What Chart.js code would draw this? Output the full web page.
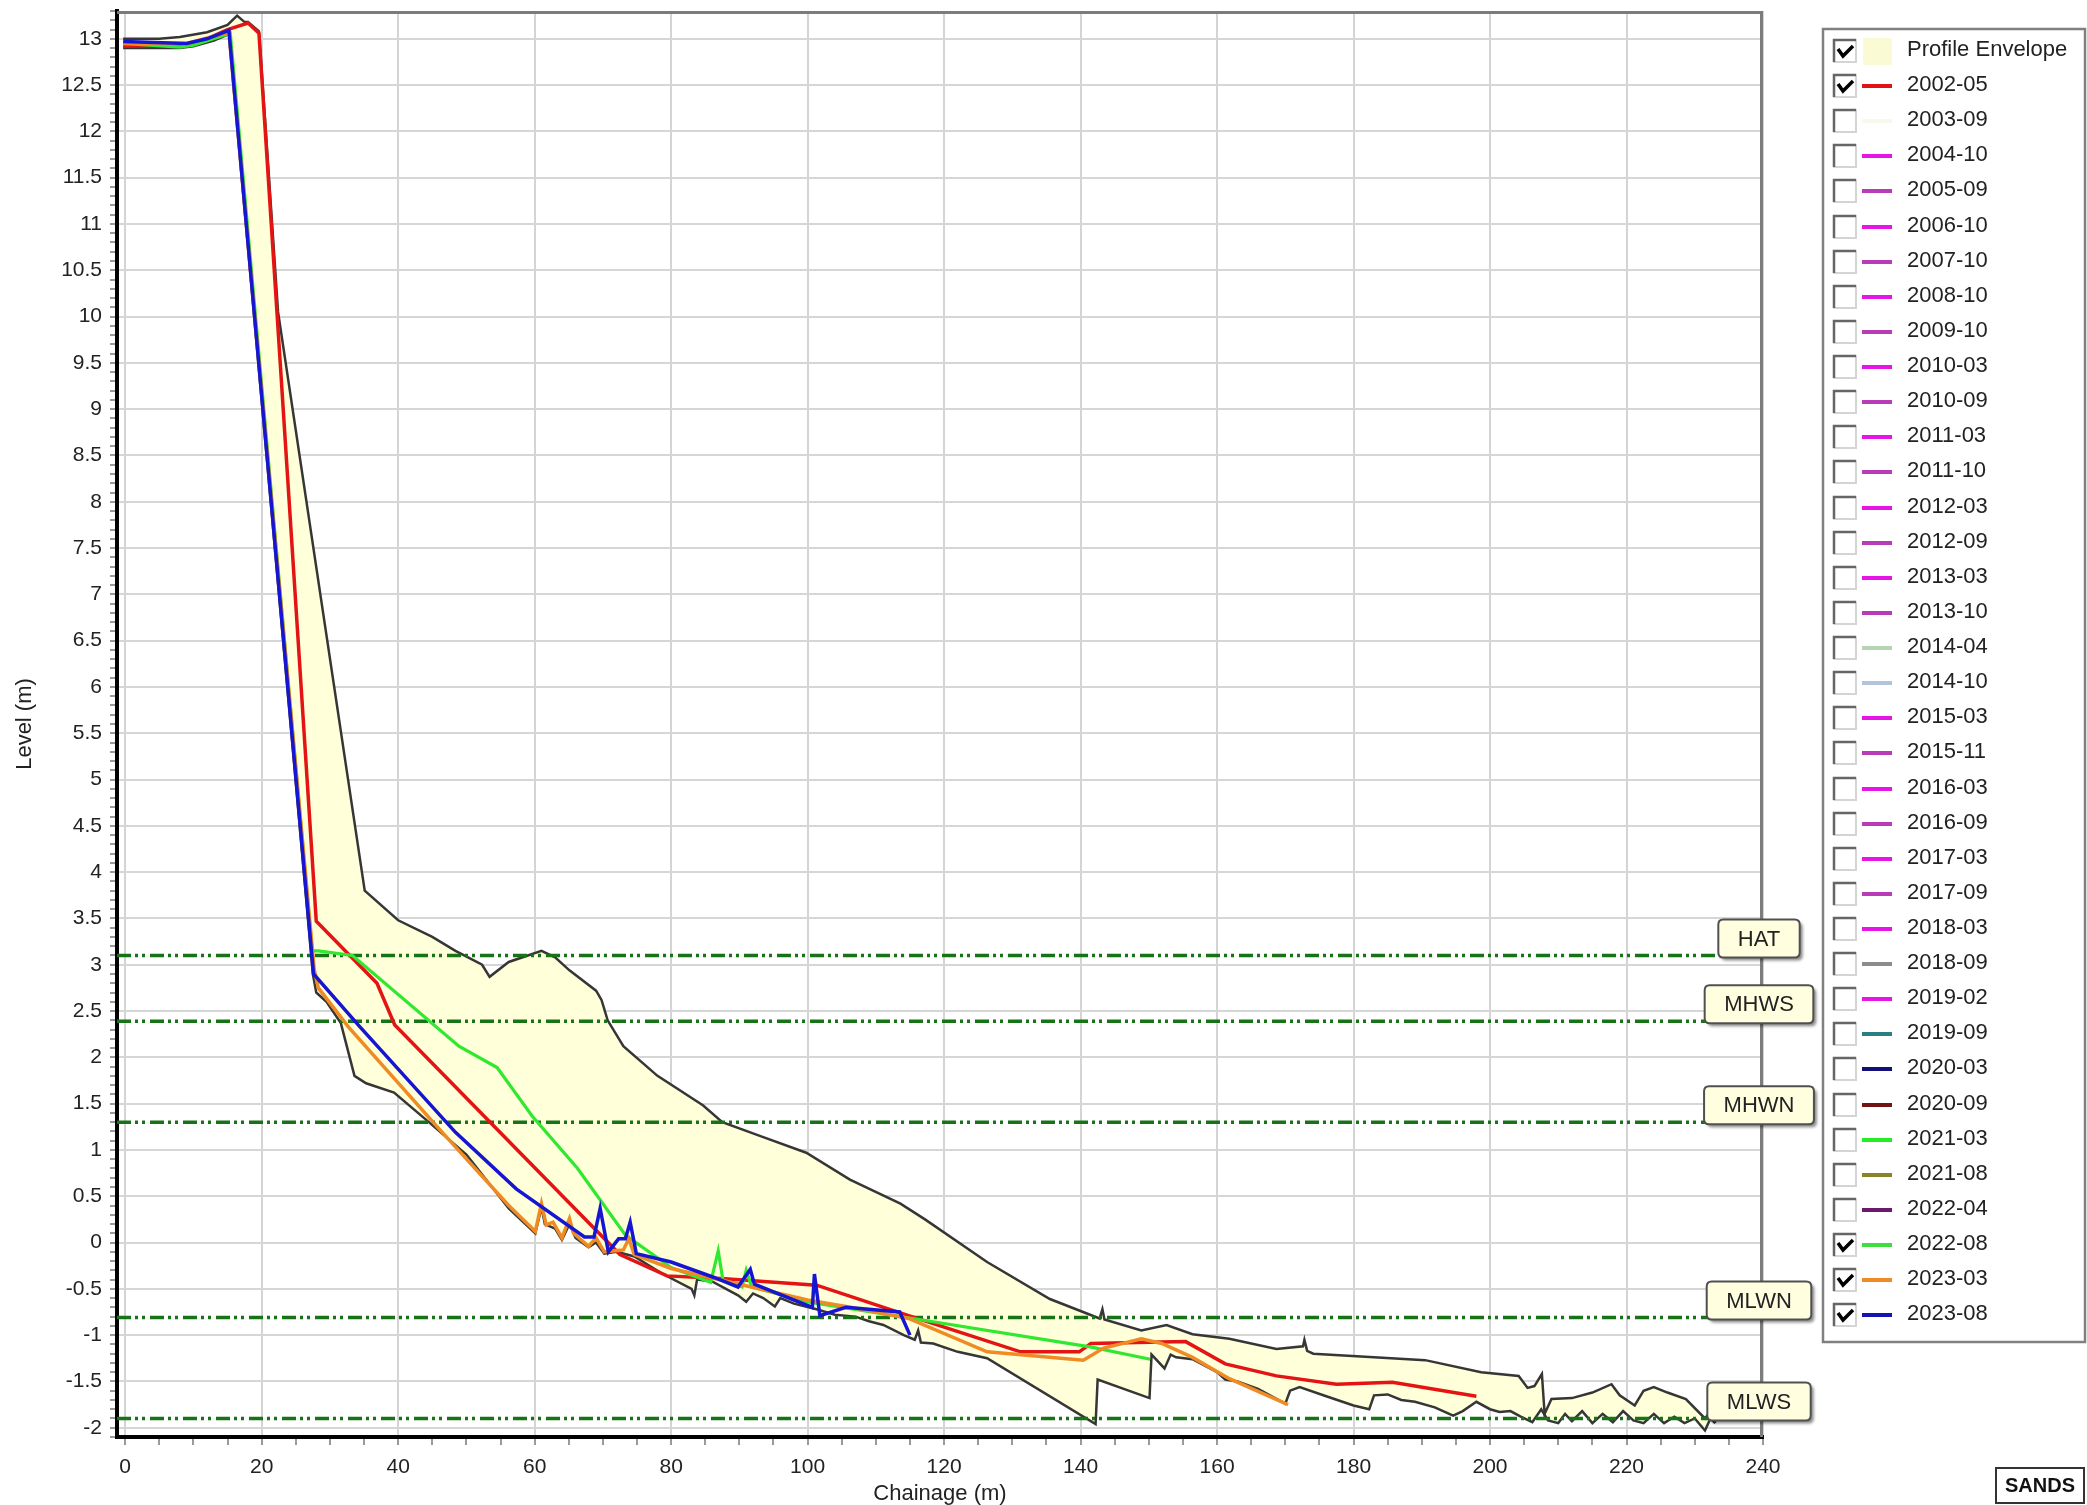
<!DOCTYPE html>
<html>
<head>
<meta charset="utf-8">
<script src="https://cdn.jsdelivr.net/npm/chart.js@4.4.1/dist/chart.umd.min.js"></script>
<style>
  html, body { margin: 0; padding: 0; background: #ffffff; }
  #wrap { width: 2087px; height: 1505px; }
</style>
</head>
<body>
<div id="wrap"><canvas id="profileChart" width="2087" height="1505"></canvas></div>
<script>
Chart.defaults.color = '#222';
Chart.defaults.font.family = '"Liberation Sans", Arial, sans-serif';

// DATA
// ================================================================
// [chainage (m), level (m)]
var envelopeTop = [
	[-0.3, 13.0], [5, 13.0], [8, 13.02], [12, 13.07], [15, 13.15], [16.4, 13.25], [17.5, 13.18],
	[18, 13.18], [19.6, 13.08], [20.8, 11.8], [22.4, 10.05], [35.1, 3.8], [40, 3.48], [45, 3.3],
	[48.4, 3.15], [52.3, 3.0], [53.4, 2.87], [56.2, 3.03], [59, 3.1], [61, 3.15], [63, 3.08],
	[65.1, 2.94], [69, 2.72], [69.8, 2.62], [70.7, 2.4], [73, 2.12], [78, 1.8], [84.7, 1.48],
	[87.5, 1.3], [93.1, 1.15], [99.8, 0.97], [106.2, 0.68], [113.6, 0.42], [117.2, 0.25],
	[126.3, -0.21], [135.5, -0.61], [142.8, -0.82], [143.2, -0.72], [143.5, -0.83], [148.9, -0.95],
	[152.6, -0.89], [156.4, -0.99], [161.8, -1.04], [168.7, -1.15], [172.6, -1.12], [172.8, -1.05],
	[173.2, -1.17], [174.1, -1.2], [183, -1.24], [190.5, -1.27], [198.7, -1.4], [204.2, -1.44],
	[205.5, -1.57], [206.5, -1.55], [207.6, -1.42], [208, -1.85], [209, -1.69], [212, -1.68],
	[215, -1.62], [217.8, -1.53], [219, -1.65], [221.2, -1.76], [222.5, -1.6], [224, -1.56],
	[226, -1.62], [228.7, -1.69], [231.5, -1.9], [232.3, -1.82], [233, -1.95]
];

var envelopeBottom = [
	[-0.3, 12.9], [5, 12.9], [8, 12.9], [10, 12.92], [13, 12.98], [15.2, 13.05], [27.5, 2.9],
	[28, 2.7], [29.5, 2.6], [31.6, 2.37], [33.6, 1.8], [35.3, 1.72], [39.4, 1.62], [44.5, 1.3],
	[50, 0.95], [56.2, 0.37], [60.1, 0.1], [61, 0.38], [61.5, 0.2], [63, 0.15], [64, 0.03],
	[65.1, 0.2], [66, 0.05], [67.9, -0.05], [69, 0.0], [70.2, -0.12], [72, -0.1], [74.6, -0.15],
	[78.8, -0.34], [83, -0.5], [83.4, -0.57], [83.8, -0.4], [86, -0.42], [89.8, -0.57], [91, -0.64],
	[92, -0.55], [93.5, -0.6], [95.2, -0.69], [96, -0.6], [98, -0.66], [101.3, -0.72], [104, -0.78],
	[107, -0.8], [109, -0.85], [111.1, -0.89], [114.1, -1.0], [115.7, -1.05], [116.2, -0.95],
	[116.6, -1.08], [118.4, -1.09], [122, -1.18], [126.3, -1.25], [142.2, -1.96], [142.5, -1.48],
	[150.1, -1.68], [150.4, -1.21], [152.3, -1.36], [153.2, -1.21], [154, -1.24], [156.4, -1.26],
	[160, -1.4], [161.2, -1.48], [163, -1.5], [166, -1.58], [170, -1.74], [170.7, -1.6],
	[172.1, -1.56], [176, -1.66], [180, -1.76], [182.3, -1.8], [183, -1.65], [185, -1.64],
	[187, -1.7], [189, -1.72], [191.9, -1.78], [194.6, -1.87], [196, -1.82], [198, -1.72],
	[200, -1.8], [201.4, -1.83], [203, -1.82], [204.5, -1.88], [206.2, -1.94], [207.5, -1.8],
	[208.5, -1.92], [210, -1.95], [211, -1.85], [212, -1.93], [213.5, -1.82], [215, -1.95],
	[216.5, -1.85], [218, -1.94], [219.5, -1.82], [221, -1.92], [222.5, -1.95], [224, -1.85],
	[225.5, -1.95], [227, -1.88], [228.5, -1.95], [230, -1.9], [231.5, -2.03], [232.3, -1.9], [233, -1.95]
];

var survey2002_05 = [
	[-0.3, 12.92], [9, 12.93], [12, 13.0], [15, 13.1], [18, 13.17], [19.6, 13.06], [28, 3.47],
	[36.9, 2.8], [39.5, 2.35], [68.5, 0.17], [72.5, -0.13], [79.4, -0.36], [87.9, -0.39],
	[101.3, -0.46], [114.8, -0.79], [131.2, -1.18], [139.8, -1.18], [141.5, -1.09], [148.2, -1.08],
	[155.4, -1.07], [161.2, -1.31], [168.7, -1.44], [177.5, -1.53], [185.7, -1.51], [198, -1.66]
];

var survey2022_08 = [
	[-0.3, 12.95], [8, 12.91], [10, 12.93], [15, 13.05], [15.4, 13.06], [27.4, 3.15], [28.3, 3.15],
	[33.3, 3.1], [48.9, 2.12], [54.5, 1.89], [59.6, 1.37], [66.3, 0.8], [73.3, 0.08], [80, -0.27],
	[85.8, -0.43], [86.9, -0.09], [87.6, -0.41], [90.4, -0.48], [91, -0.3], [91.8, -0.48],
	[100, -0.64], [115.4, -0.82], [141.6, -1.13], [150.2, -1.26]
];

var survey2023_03 = [
	[-0.3, 12.95], [9, 12.95], [15.2, 13.07], [27.7, 2.95], [28.3, 2.75], [32.7, 2.33], [45.6, 1.26],
	[56.2, 0.4], [60.1, 0.12], [61, 0.42], [61.7, 0.19], [62.7, 0.22], [64, 0.05], [65.1, 0.26],
	[65.7, 0.1], [67.9, -0.04], [69, 0.05], [70.2, -0.1], [73, -0.08], [73.8, 0.04], [74.6, -0.13],
	[80, -0.28], [90, -0.45], [100, -0.62], [108, -0.72], [114.8, -0.82], [126.3, -1.18],
	[140.4, -1.27], [143.4, -1.14], [148.9, -1.04], [151.9, -1.09], [156.4, -1.24], [161.8, -1.47],
	[170.4, -1.75]
];

var survey2023_08 = [
	[-0.3, 12.97], [9, 12.95], [12, 13.0], [15.2, 13.09], [27.6, 2.9], [34.4, 2.33], [48.4, 1.19],
	[57.3, 0.58], [67.3, 0.06], [68.7, 0.06], [69.6, 0.37], [70.8, -0.1], [72.3, 0.04], [73.3, 0.04],
	[74.0, 0.22], [74.9, -0.12], [80, -0.21], [86.4, -0.38], [89.8, -0.48], [91.6, -0.29],
	[92.2, -0.45], [100.7, -0.7], [101, -0.34], [101.8, -0.79], [105.6, -0.7], [113.5, -0.75], [115, -1.0]
];

var tideNames = ['HAT', 'MHWS', 'MHWN', 'MLWN', 'MLWS'];
var tideLevels = [3.1, 2.39, 1.3, -0.81, -1.9];

var legendNames = ['Profile Envelope', '2002-05', '2003-09', '2004-10', '2005-09', '2006-10', '2007-10',
	'2008-10', '2009-10', '2010-03', '2010-09', '2011-03', '2011-10', '2012-03', '2012-09', '2013-03',
	'2013-10', '2014-04', '2014-10', '2015-03', '2015-11', '2016-03', '2016-09', '2017-03', '2017-09',
	'2018-03', '2018-09', '2019-02', '2019-09', '2020-03', '2020-09', '2021-03', '2021-08', '2022-04',
	'2022-08', '2023-03', '2023-08'];
var M = '#e614e6', D = '#b83cb8';
var legendColors = ['#fafad4', '#e01414', '#f8f8ec', M, D, M, D, M, D, M, D, M, D, M, D, M, D,
	'#b4d4b4', '#b0c4dc', M, D, M, D, M, D, M, '#8c8c8c', M, '#2a8080', '#101078', '#701414',
	'#22ee22', '#8a8428', '#6c186c', '#3ede3e', '#f08c28', '#1414b4'];
var legendChecked = ['Profile Envelope', '2002-05', '2022-08', '2023-03', '2023-08'];

var X_MIN = -1.2, X_MAX = 240, Y_MIN = -2.1, Y_MAX = 13.3;


// Helpers
// ================================================================
function pts(arr) { return arr.map(function (p) { return { x: p[0], y: p[1] }; }); }
function isMult(v, step) { return Math.abs(v / step - Math.round(v / step)) < 1e-6; }
function lineSet(label, arr, color, width, order) {
	return { label: label, data: pts(arr), borderColor: color, borderWidth: width, order: order,
		fill: false, pointRadius: 0, pointHoverRadius: 0, tension: 0 };
}

var datasets = [];
var envUpper = lineSet('Profile Envelope', envelopeTop, '#363636', 2.5, 9);
envUpper.fill = { target: '+1', above: '#ffffda', below: '#ffffda' };
datasets.push(envUpper);
datasets.push(lineSet('envelope-lower', envelopeBottom, '#363636', 2.5, 8));
tideNames.forEach(function (n, i) {
	var d = lineSet(n, [[X_MIN, tideLevels[i]], [X_MAX, tideLevels[i]]], '#167316', 3.5, 7);
	d.borderDash = [14, 4, 3, 4, 3, 5];
	datasets.push(d);
});
datasets.push(lineSet('2002-05', survey2002_05, '#e41414', 3.5, 4));
datasets.push(lineSet('2022-08', survey2022_08, '#30e830', 3.2, 3));
datasets.push(lineSet('2023-03', survey2023_03, '#f08a24', 3.5, 2));
datasets.push(lineSet('2023-08', survey2023_08, '#1616d2', 3.5, 1));


// Plugins
// ================================================================
function roundRect(ctx, x, y, w, h, r) {
	ctx.beginPath();
	ctx.moveTo(x + r, y);
	ctx.lineTo(x + w - r, y); ctx.quadraticCurveTo(x + w, y, x + w, y + r);
	ctx.lineTo(x + w, y + h - r); ctx.quadraticCurveTo(x + w, y + h, x + w - r, y + h);
	ctx.lineTo(x + r, y + h); ctx.quadraticCurveTo(x, y + h, x, y + h - r);
	ctx.lineTo(x, y + r); ctx.quadraticCurveTo(x, y, x + r, y);
	ctx.closePath();
}

var decor = {
	id: 'decor',
	afterDatasetsDraw: function (chart) {
		var ctx = chart.ctx, a = chart.chartArea, xs = chart.scales.x, ys = chart.scales.y;
		ctx.save();
		// top and right frame
		ctx.strokeStyle = '#7c7c7c';
		ctx.lineWidth = 3;
		ctx.beginPath();
		ctx.moveTo(a.left, a.top + 1.5);
		ctx.lineTo(a.right - 1.5, a.top + 1.5);
		ctx.lineTo(a.right - 1.5, a.bottom);
		ctx.stroke();

		// tide level labels
		ctx.font = '22px "Liberation Sans", Arial, sans-serif';
		ctx.textAlign = 'center';
		ctx.textBaseline = 'middle';
		var cx = xs.getPixelForValue(X_MAX) - 4;
		tideNames.forEach(function (n, i) {
			var w = ctx.measureText(n).width + 39, h = 38;
			var yb = ys.getPixelForValue(tideLevels[i]) + 2;
			ctx.save();
			ctx.shadowColor = 'rgba(0,0,0,0.45)';
			ctx.shadowOffsetX = 3; ctx.shadowOffsetY = 3; ctx.shadowBlur = 3;
			roundRect(ctx, cx - w / 2, yb - h, w, h, 5);
			ctx.fillStyle = '#ffffe0';
			ctx.fill();
			ctx.restore();
			roundRect(ctx, cx - w / 2, yb - h, w, h, 5);
			ctx.strokeStyle = '#505050'; ctx.lineWidth = 2;
			ctx.stroke();
			ctx.fillStyle = '#222';
			ctx.fillText(n, cx, yb - h / 2 + 1);
		});
		ctx.restore();
	},
	afterDraw: function (chart) {
		var ctx = chart.ctx;
		ctx.save();
		// legend box
		ctx.fillStyle = '#ffffff';
		ctx.fillRect(1823, 29, 262, 1313);
		ctx.strokeStyle = '#808080'; ctx.lineWidth = 2.5;
		ctx.strokeRect(1823, 29, 262, 1313);
		ctx.font = '22px "Liberation Sans", Arial, sans-serif';
		ctx.textBaseline = 'middle';
		ctx.textAlign = 'left';
		legendNames.forEach(function (n, i) {
			var cy = Math.round(50 + 35.12 * i);
			var bx = 1833, by = cy - 11;
			// checkbox
			ctx.fillStyle = '#ffffff';
			ctx.fillRect(bx, by, 23, 23);
			ctx.lineWidth = 2;
			ctx.strokeStyle = '#d4d4d4';
			ctx.beginPath(); ctx.moveTo(bx + 23, by); ctx.lineTo(bx + 23, by + 23); ctx.lineTo(bx, by + 23); ctx.stroke();
			ctx.strokeStyle = '#666';
			ctx.lineWidth = 2.5;
			ctx.beginPath(); ctx.moveTo(bx + 1, by + 23); ctx.lineTo(bx + 1, by + 1); ctx.lineTo(bx + 23, by + 1); ctx.stroke();
			if (legendChecked.indexOf(n) >= 0) {
				ctx.strokeStyle = '#000'; ctx.lineWidth = 3.5;
				ctx.beginPath(); ctx.moveTo(bx + 5, by + 10); ctx.lineTo(bx + 10, by + 17); ctx.lineTo(bx + 20, by + 7); ctx.stroke();
			}
			// swatch
			if (i === 0) {
				ctx.fillStyle = legendColors[i];
				ctx.fillRect(1863, cy - 12, 29, 27);
			} else {
				ctx.strokeStyle = legendColors[i]; ctx.lineWidth = 4;
				ctx.beginPath(); ctx.moveTo(1862, cy + 1); ctx.lineTo(1892, cy + 1); ctx.stroke();
			}
			ctx.fillStyle = '#222';
			ctx.fillText(n, 1907, cy);
		});
		// SANDS tag
		ctx.fillStyle = '#ffffff';
		ctx.fillRect(1996, 1468, 88, 35);
		ctx.strokeStyle = '#333'; ctx.lineWidth = 2;
		ctx.strokeRect(1996, 1468, 88, 35);
		ctx.fillStyle = '#111';
		ctx.font = 'bold 20px "Liberation Sans", Arial, sans-serif';
		ctx.textAlign = 'center';
		ctx.fillText('SANDS', 2040, 1486);
		ctx.restore();
	}
};


// OPTIONS
// ================================================================
var options = {
	responsive: false,
	animation: false,
	layout: { padding: { left: 0, right: 324, top: 11, bottom: 0 } },
	plugins: {
		legend: { display: false },
		tooltip: { enabled: false }
	},
	scales: {
		x: {
			type: 'linear',
			min: X_MIN,
			max: X_MAX,
			afterFit: function (s) { s.height = 68; s.paddingLeft = 0; s.paddingRight = 0; },
			title: { display: true, text: 'Chainage (m)', font: { size: 22 }, padding: { top: 0, bottom: -2 } },
			ticks: {
				stepSize: 5,
				autoSkip: false,
				includeBounds: false,
				maxRotation: 0,
				padding: 10,
				font: { size: 21 },
				callback: function (v) { return isMult(v, 20) ? String(Math.round(v)) : ''; }
			},
			grid: {
				color: function (c) { return c.tick && isMult(c.tick.value, 20) ? '#d4d4d4' : 'rgba(0,0,0,0)'; },
				lineWidth: 2,
				tickColor: '#9a9a9a',
				tickWidth: 2,
				tickLength: 8
			},
			border: { color: '#000', width: 4 }
		},
		y: {
			min: Y_MIN,
			max: Y_MAX,
			afterFit: function (s) { s.width = 117; s.paddingTop = 0; s.paddingBottom = 0; },
			title: { display: true, text: 'Level (m)', font: { size: 22 }, padding: { top: 12, bottom: 4 } },
			ticks: {
				stepSize: 0.1,
				autoSkip: false,
				includeBounds: false,
				padding: 8,
				font: { size: 21 },
				callback: function (v) { return isMult(v, 0.5) && v > -2.05 && v < 13.05 ? String(Math.round(v * 10) / 10) : ''; }
			},
			grid: {
				color: function (c) { return c.tick && isMult(c.tick.value, 0.5) ? '#d6d6d6' : 'rgba(0,0,0,0)'; },
				lineWidth: 2,
				tickColor: '#9a9a9a',
				tickWidth: 2,
				tickLength: 7
			},
			border: { color: '#000', width: 4 }
		}
	}
};


// Create the chart
var ctx = document.getElementById('profileChart').getContext('2d');
var Render = new Chart(ctx, {
	type: 'line',
	data: { datasets: datasets },
	options: options,
	plugins: [decor]
});
</script>
</body>
</html>
